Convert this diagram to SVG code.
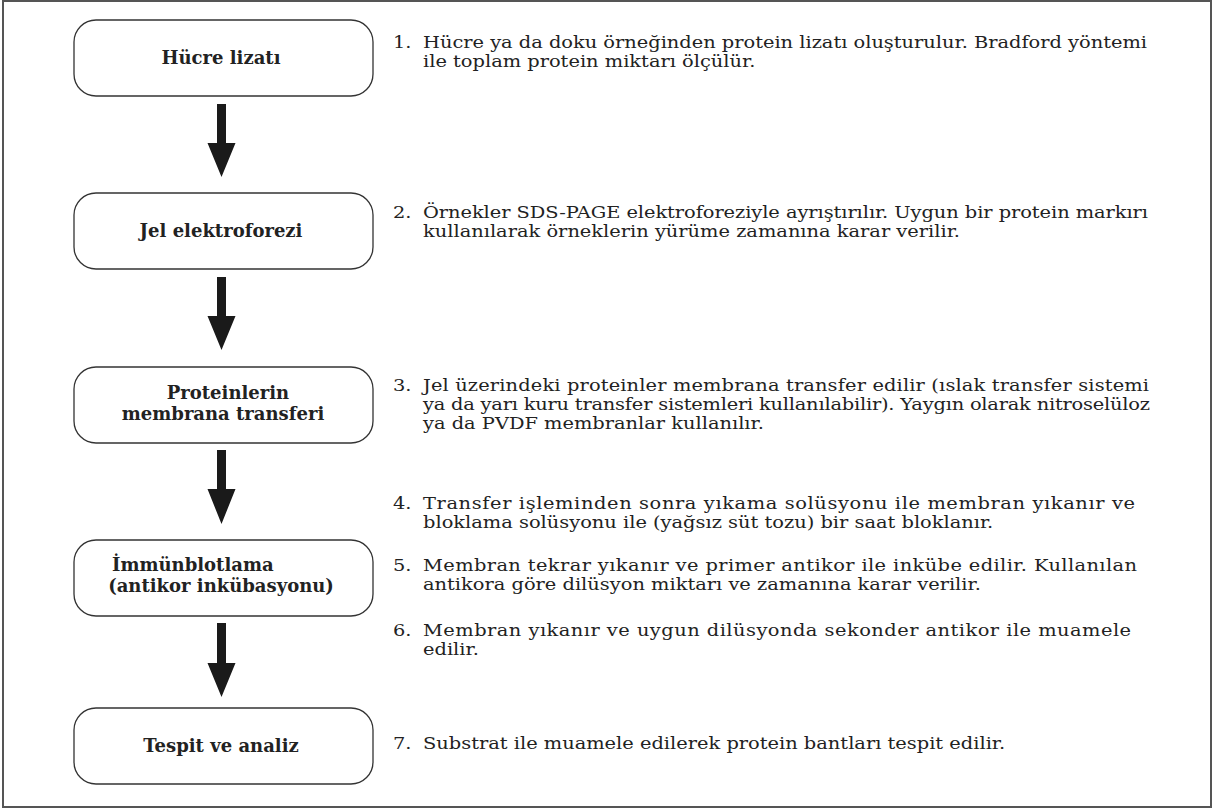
<svg xmlns="http://www.w3.org/2000/svg" width="1214" height="809" viewBox="0 0 1214 809">
<style>
.frame{fill:#fff;stroke:#555;stroke-width:2}
.box{fill:#fff;stroke:#333;stroke-width:1.3}
.lbl{font-family:"DejaVu Serif","Liberation Serif",serif;font-weight:bold;font-size:18px;fill:#222;text-anchor:middle}
.txt{font-family:"DejaVu Serif","Liberation Serif",serif;font-size:16.3px;fill:#222}
.arr{fill:#1a1a1a}
</style>
<rect class="frame" x="3" y="1" width="1208" height="806"/>
<g id="n1"><rect class="box" x="74" y="20" width="299" height="76" rx="22"/><text class="lbl" x="221" y="64">Hücre lizatı</text></g>
<g id="n2"><rect class="box" x="74" y="193" width="299" height="76" rx="22"/><text class="lbl" x="221" y="237">Jel elektroforezi</text></g>
<g id="n3"><rect class="box" x="74" y="367" width="299" height="76" rx="22"/><text class="lbl" x="228" y="399">Proteinlerin</text><text class="lbl" x="223" y="420">membrana transferi</text></g>
<g id="n4"><rect class="box" x="74" y="540" width="299" height="76" rx="22"/><text class="lbl" x="112" y="571" style="text-anchor:start">İmmünblotlama</text><text class="lbl" x="221" y="592">(antikor inkübasyonu)</text></g>
<g id="n5"><rect class="box" x="74" y="708" width="299" height="76" rx="22"/><text class="lbl" x="221" y="752">Tespit ve analiz</text></g>
<g id="connectors">
<polygon class="arr" points="217,104 226,104 226,143 235.5,143 221.5,177 207.5,143 217,143"/>
<polygon class="arr" points="217,277 226,277 226,316 235.5,316 221.5,350 207.5,316 217,316"/>
<polygon class="arr" points="217,450 226,450 226,489 235.5,489 221.5,524 207.5,489 217,489"/>
<polygon class="arr" points="217,623 226,623 226,663 235.5,663 221.5,697 207.5,663 217,663"/>
</g>
<g id="notes" class="txt" transform="translate(393,0) scale(1.191,1) translate(-393,0)">
<text x="393" y="48">1.</text><text x="418.2" y="48" textLength="607.9" lengthAdjust="spacing">Hücre ya da doku örneğinden protein lizatı oluşturulur. Bradford yöntemi</text>
<text x="418.2" y="67">ile toplam protein miktarı ölçülür.</text>
<text x="393" y="218.5">2.</text><text x="418.2" y="218.5" textLength="608.7" lengthAdjust="spacing">Örnekler SDS-PAGE elektroforeziyle ayrıştırılır. Uygun bir protein markırı</text>
<text x="418.2" y="237.5">kullanılarak örneklerin yürüme zamanına karar verilir.</text>
<text x="393" y="391">3.</text><text x="418.2" y="391" textLength="609.6" lengthAdjust="spacing">Jel üzerindeki proteinler membrana transfer edilir (ıslak transfer sistemi</text>
<text x="418.2" y="410" textLength="610.4" lengthAdjust="spacing">ya da yarı kuru transfer sistemleri kullanılabilir). Yaygın olarak nitroselüloz</text>
<text x="418.2" y="429">ya da PVDF membranlar kullanılır.</text>
<text x="393" y="509">4.</text><text x="418.2" y="509" textLength="597.8" lengthAdjust="spacing">Transfer işleminden sonra yıkama solüsyonu ile membran yıkanır ve</text>
<text x="418.2" y="528">bloklama solüsyonu ile (yağsız süt tozu) bir saat bloklanır.</text>
<text x="393" y="571">5.</text><text x="418.2" y="571" textLength="599.5" lengthAdjust="spacing">Membran tekrar yıkanır ve primer antikor ile inkübe edilir. Kullanılan</text>
<text x="418.2" y="590">antikora göre dilüsyon miktarı ve zamanına karar verilir.</text>
<text x="393" y="636">6.</text><text x="418.2" y="636" textLength="594.5" lengthAdjust="spacing">Membran yıkanır ve uygun dilüsyonda sekonder antikor ile muamele</text>
<text x="418.2" y="655">edilir.</text>
<text x="393" y="749">7.</text><text x="418.2" y="749">Substrat ile muamele edilerek protein bantları tespit edilir.</text>
</g>
</svg>
